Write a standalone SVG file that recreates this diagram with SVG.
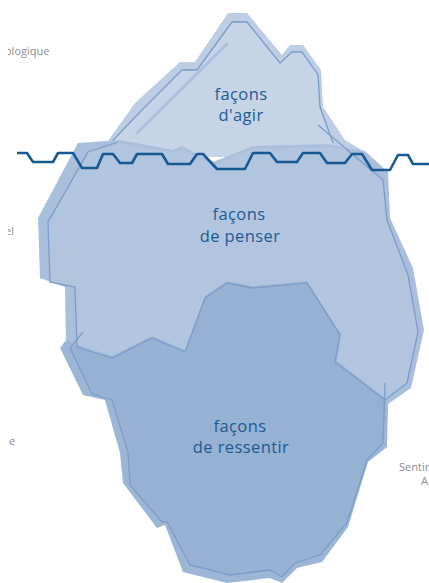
<svg xmlns="http://www.w3.org/2000/svg" width="429" height="583" viewBox="0 0 429 583">
  <style>
    .edge { fill: none; stroke: #7b9dc7; stroke-width: 1.3; stroke-linejoin: miter; }
    .title { font-family: "Open Sans", "DejaVu Sans", sans-serif; font-size: 16.5px; fill: #1d5a92; text-anchor: middle; letter-spacing: 0.4px; }
    .side { font-family: "Open Sans", "Liberation Sans", sans-serif; font-size: 11px; fill: #8e8e8e; }
  </style>
  <defs>
    <clipPath id="leftMargin">
      <rect x="8" y="0" width="421" height="583"/>
    </clipPath>
  </defs>

  <rect width="429" height="583" fill="#ffffff"/>

  <!-- side labels cut by the frame -->
  <g id="side-labels" clip-path="url(#leftMargin)">
    <text class="side" x="5" y="55">ologique</text>
    <text class="side" x="5" y="235">el</text>
    <text class="side" x="9" y="445">e</text>
  </g>
  <g id="side-labels-right">
    <text class="side" x="399" y="471" font-size="10.5">Sentir</text>
    <text class="side" x="421" y="485" font-size="10.5">A</text>
  </g>

  <!-- tip above the water: façons d'agir -->
  <g id="agir">
    <polygon fill="#bdcde3" points="100,152 135,103 180,62 195,62 228,13 247,13 282,55 290,45 303,45 321,70 323,107 345,140 365,152 333,160"/>
    <polygon fill="#c6d4e7" points="98,156 140,112 182,70 197,70 232,22 247,22 280,63 292,52 302,52 318,75 320,107 333,143 333,158"/>
    <polyline class="edge" points="98,156 140,112 182,70 197,70 232,22 247,22 280,63 292,52 302,52 318,75 320,107 333,143"/>
    <line x1="228" y1="43" x2="136" y2="134" stroke="#abc0dc" stroke-width="3"/>
  </g>

  <!-- middle mass: façons de penser -->
  <g id="penser">
    <polygon fill="#a9bfdb" points="78,143 120,140 173,150 182,146 213,162 253,146 327,144 365,151 388,172 390,218 413,268 424,330 411,388 388,404 385,400 335,362 340,335 307,283 252,288 227,283 205,298 185,352 152,338 112,358 77,350 66,345 65,287 40,278 38,218"/>
    <polygon fill="#b1c5df" points="88,152 120,144 173,152 182,149 213,165 253,149 327,147 345,150 380,178 383,180 387,220 408,275 418,332 407,383 385,400 335,362 340,335 307,283 252,288 227,283 205,298 185,352 152,338 112,358 77,347 75,287 50,282 48,222"/>
  </g>

  <!-- lower mass: façons de ressentir -->
  <g id="ressentir">
    <polygon fill="#9db6d6" points="66,340 77,345 112,356 152,336 185,350 205,296 227,281 252,286 307,281 341,334 337,361 385,398 388,404 387,447 368,462 348,527 322,562 297,568 282,583 270,578 227,583 183,572 165,525 157,528 123,483 120,453 105,400 83,395 60,348"/>
    <polygon fill="#97b1d3" points="77,347 112,358 152,338 185,352 205,298 227,283 252,288 307,283 340,335 335,362 385,400 383,443 367,460 347,523 320,555 295,563 282,577 270,570 230,575 190,565 167,522 162,522 130,485 128,452 112,400 92,394 70,348"/>
  </g>

  <!-- outlines drawn over both masses -->
  <g id="outlines">
    <polyline class="edge" points="118,142 88,152 48,222 50,282 75,287 77,347 112,358 152,338 185,352 205,298 227,283 252,288 307,283 340,335 335,362 385,400 407,383 418,332 408,275 387,220 383,180 318,125"/>
    <polyline class="edge" points="83,332 70,348 92,394 112,400 128,452 130,485 162,522 167,522 190,565 230,575 270,570 282,577 295,563 320,555 347,523 367,460 383,443 385,383"/>
  </g>

  <!-- waterline -->
  <g id="connectors">
    <polyline fill="none" stroke="#175a93" stroke-width="2.6" stroke-linejoin="round" points="17,153 27,153 33,162 53,162 58,153 73,153 82,168 97,168 103,154 113,154 120,163 132,163 137,154 162,154 168,164 190,164 197,154 203,154 217,169 245,169 253,153 270,153 277,162 297,162 303,153 320,153 327,163 345,163 352,154 362,154 372,170 390,170 398,155 408,155 413,164 429,164"/>
  </g>

  <!-- labels -->
  <g id="labels">
    <text class="title" x="241" y="100">façons</text>
    <text class="title" x="241" y="121">d'agir</text>
    <text class="title" x="239" y="220">façons</text>
    <text class="title" x="240" y="242">de penser</text>
    <text class="title" x="240" y="432">façons</text>
    <text class="title" x="241" y="453">de ressentir</text>
  </g>
</svg>
